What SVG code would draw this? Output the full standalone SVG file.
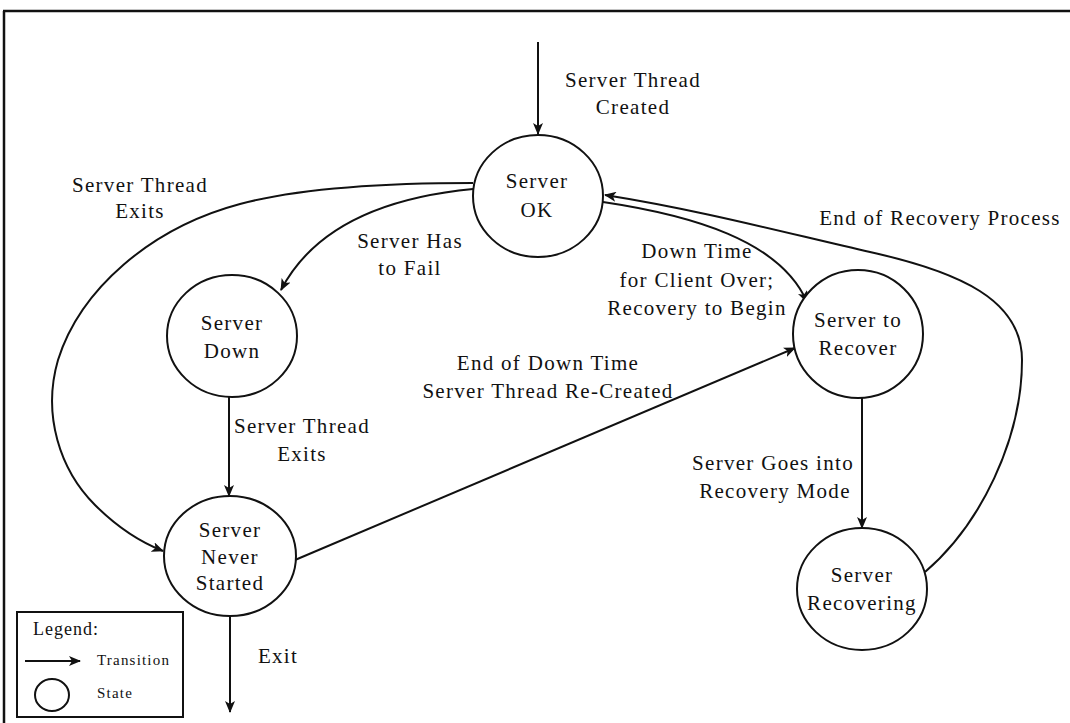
<svg xmlns="http://www.w3.org/2000/svg" width="1070" height="723" viewBox="0 0 1070 723">
  <style>
    .state { fill: #fff; stroke: #111; stroke-width: 2; }
    .edge { fill: none; stroke: #111; stroke-width: 2; }
    .frame { fill: none; stroke: #111; stroke-width: 2.5; }
    text { font-family: "Liberation Serif", "Times New Roman", serif; font-size: 21px; letter-spacing: 1.3px; fill: #111; text-anchor: middle; }
    .small { font-size: 15px; letter-spacing: 1.2px; text-anchor: start; }
    .legend-title { font-size: 18px; letter-spacing: 1px; text-anchor: start; }
  </style>
  <defs>
    <marker id="arrow" viewBox="0 0 12 10" refX="11" refY="5" markerWidth="12" markerHeight="10" markerUnits="userSpaceOnUse" orient="auto">
      <path d="M0,0 L12,5 L0,10 L3,5 Z" fill="#111"/>
    </marker>
  </defs>

  <rect width="1070" height="723" fill="#fff"/>

  <!-- outer frame: top and left rules -->
  <path class="frame" d="M3,11 H1070 M4,11 V723"/>

  <!-- transitions -->
  <g id="connectors">
    <line class="edge" x1="538" y1="42" x2="538" y2="134" marker-end="url(#arrow)"/>
    <path class="edge" d="M473,183 C380,183 300,188 240,204 C150,228 80,290 58,360 C42,415 60,470 95,505 C115,525 135,540 163,551" marker-end="url(#arrow)"/>
    <path class="edge" d="M473,189 C410,195 320,215 281,290" marker-end="url(#arrow)"/>
    <path class="edge" d="M603,202 C690,215 780,240 807,302" marker-end="url(#arrow)"/>
    <path class="edge" d="M925,572 C980,525 1022,440 1022,360 C1022,300 960,272 870,252 C790,234 700,210 605,195" marker-end="url(#arrow)"/>
    <line class="edge" x1="229" y1="397" x2="229" y2="496" marker-end="url(#arrow)"/>
    <line class="edge" x1="295" y1="560" x2="795" y2="348" marker-end="url(#arrow)"/>
    <line class="edge" x1="862" y1="398" x2="862" y2="528" marker-end="url(#arrow)"/>
    <line class="edge" x1="230" y1="616" x2="230" y2="712" marker-end="url(#arrow)"/>
  </g>

  <!-- transition labels -->
  <g id="labels">
    <text x="633" y="87">Server Thread</text>
    <text x="633" y="114">Created</text>
    <text x="140" y="192">Server Thread</text>
    <text x="140" y="218">Exits</text>
    <text x="410" y="248">Server Has</text>
    <text x="410" y="275">to Fail</text>
    <text x="697" y="258">Down Time</text>
    <text x="697" y="287">for Client Over;</text>
    <text x="697" y="315">Recovery to Begin</text>
    <text x="940" y="225">End of Recovery Process</text>
    <text x="548" y="370">End of Down Time</text>
    <text x="548" y="398">Server Thread Re-Created</text>
    <text x="302" y="433">Server Thread</text>
    <text x="302" y="461">Exits</text>
    <text x="773" y="470">Server Goes into</text>
    <text x="775" y="498">Recovery Mode</text>
    <text x="278" y="663">Exit</text>
  </g>

  <g id="server-ok">
    <ellipse class="state" cx="538" cy="196" rx="65" ry="61"/>
    <text x="537" y="188">Server</text>
    <text x="537" y="217">OK</text>
  </g>

  <g id="server-down">
    <ellipse class="state" cx="232" cy="336" rx="65" ry="61"/>
    <text x="232" y="330">Server</text>
    <text x="232" y="358">Down</text>
  </g>

  <g id="server-never-started">
    <ellipse class="state" cx="230" cy="556" rx="66" ry="60"/>
    <text x="230" y="537">Server</text>
    <text x="230" y="564">Never</text>
    <text x="230" y="590">Started</text>
  </g>

  <g id="server-to-recover">
    <ellipse class="state" cx="858" cy="334" rx="65" ry="64"/>
    <text x="858" y="327">Server to</text>
    <text x="858" y="355">Recover</text>
  </g>

  <g id="server-recovering">
    <ellipse class="state" cx="862" cy="589" rx="65" ry="61"/>
    <text x="862" y="582">Server</text>
    <text x="862" y="610">Recovering</text>
  </g>

  <g id="legend">
    <rect x="17" y="612" width="166" height="105" fill="#fff" stroke="#111" stroke-width="2"/>
    <text class="legend-title" x="33" y="635">Legend:</text>
    <line class="edge" x1="25" y1="661" x2="80" y2="661" marker-end="url(#arrow)"/>
    <text class="small" x="97" y="665">Transition</text>
    <ellipse cx="52" cy="695" rx="17" ry="16" fill="none" stroke="#111" stroke-width="2"/>
    <text class="small" x="97" y="698">State</text>
  </g>
</svg>
